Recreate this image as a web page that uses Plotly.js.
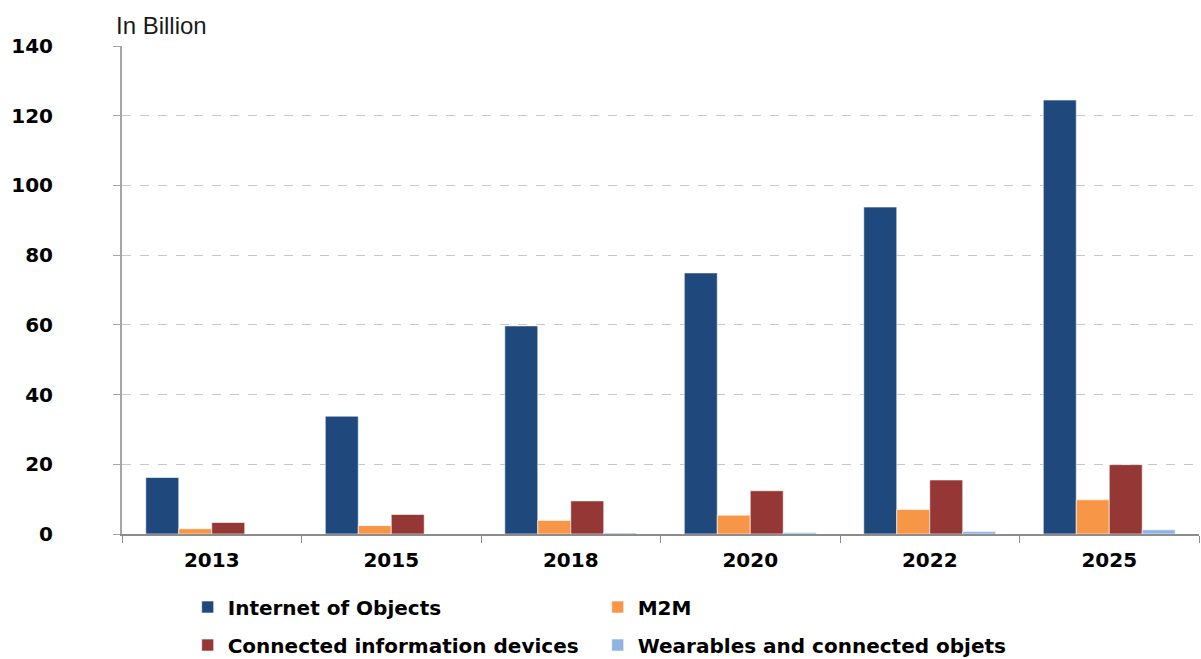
<!DOCTYPE html>
<html><head><meta charset="utf-8">
<script src="https://cdn.plot.ly/plotly-3.0.1.min.js"></script>
<style>html,body{margin:0;padding:0;background:#fff}#chart{width:1201px;height:659px}</style>
</head><body><div id="chart"></div>
<script>
const years = ['2013','2015','2018','2020','2022','2025'];
const internetOfObjects = [16.2, 33.8, 59.7, 74.9, 93.8, 124.5];
const m2m = [1.5, 2.4, 3.9, 5.4, 7.0, 9.8];
const connectedInfoDevices = [3.3, 5.6, 9.5, 12.4, 15.5, 19.9];
const wearables = [0, 0, 0.3, 0.4, 0.7, 1.2];
const yTicks = [0, 20, 40, 60, 80, 100, 120, 140];

const font = 'Liberation Sans, Arial, sans-serif';
const boldFont = 'DejaVu Sans, Liberation Sans, Arial, sans-serif';
function bar(name, y, color, legend) {
  return {type: 'bar', name: name, x: years, y: y, legend: legend,
    marker: {color: color, line: {color: 'rgba(255,255,255,0.6)', width: 1}},
    hoverinfo: 'x+y+name'};
}
const data = [
  bar('Internet of Objects', internetOfObjects, '#1F497D', 'legend'),
  bar('M2M', m2m, '#F79646', 'legend'),
  bar('Connected information devices', connectedInfoDevices, '#953735', 'legend2'),
  bar('Wearables and connected objets', wearables, '#8DB4E2', 'legend2')
];
const legendFont = {size: 20, family: boldFont, weight: 'bold', color: '#000'};
const legendBase = {orientation: 'h', x: 0.061, xanchor: 'left', yanchor: 'middle',
  entrywidth: 365, entrywidthmode: 'pixels', traceorder: 'normal',
  font: legendFont, itemwidth: 30, bgcolor: 'rgba(0,0,0,0)'};
const layout = {
  width: 1201, height: 659,
  margin: {l: 122, r: 2, t: 46, b: 125, autoexpand: false},
  paper_bgcolor: '#fff', plot_bgcolor: '#fff',
  barmode: 'group', bargap: 0.265, bargroupgap: 0,
  font: {family: font, color: '#000'},
  xaxis: {type: 'category', tickson: 'boundaries', ticks: 'outside', ticklen: 7,
    tickcolor: '#8c8c8c', showline: true, linecolor: '#8c8c8c', linewidth: 2,
    ticklabelstandoff: 7, automargin: false,
    tickfont: {size: 20, family: boldFont, weight: 'bold', color: '#000'}, showgrid: false},
  yaxis: {range: [0, 140], tickvals: yTicks, ticktext: yTicks.map(String),
    ticks: 'outside', ticklen: 7, tickcolor: '#a6a6a6',
    showline: true, linecolor: '#a6a6a6', linewidth: 2, automargin: false,
    showgrid: true, gridcolor: '#c8c8c8', griddash: 'dash', gridwidth: 1,
    ticklabelstandoff: 56,
    zeroline: false, tickfont: {size: 20, family: boldFont, weight: 'bold', color: '#000'}},
  legend: Object.assign({}, legendBase, {y: -0.1496}),
  legend2: Object.assign({}, legendBase, {y: -0.2275}),
  annotations: [{text: 'In Billion', xref: 'paper', yref: 'paper', x: -0.0075, y: 1.043,
    xanchor: 'left', yanchor: 'middle', showarrow: false, font: {size: 24, family: font, color: '#1a1a1a'}}],
  showlegend: true
};
Plotly.newPlot('chart', data, layout, {displayModeBar: false, staticPlot: true});
</script></body></html>
